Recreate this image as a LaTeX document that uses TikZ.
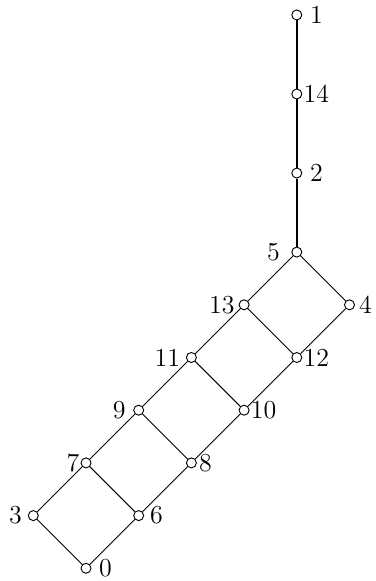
\documentclass[tikz,border=0pt]{standalone}
\tikzset{
  vtx/.style={circle,draw,fill=white,inner sep=0pt,minimum size=5.4pt,line width=0.5pt},
  edg/.style={line width=0.5pt},
  chn/.style={line width=1pt},
  every label/.style={font=\fontsize{14}{16}\selectfont,inner sep=2pt}
}
\begin{document}
\begin{tikzpicture}
    \useasboundingbox (-1.632,-0.241) rectangle (5.503,10.784);
    % lattice part
    \node[vtx,label={[label distance=2pt]right:0}] (n0) at (0,0) {};
    \node[vtx,label={[label distance=1pt]left:3}] (n3) at (-1,1) {};
    \node[vtx,label={[label distance=1pt]right:6}] (n6) at (1,1) {};
    \node[vtx,label={[label distance=-1.5pt]left:7}] (n7) at (0,2) {};
    \node[vtx,label={[label distance=-1pt]right:8}] (n8) at (2,2) {};
    \node[vtx,label={[label distance=2pt]left:9}] (n9) at (1,3) {};
    \node[vtx,label={[label distance=-1.5pt]right:10}] (n10) at (3,3) {};
    \node[vtx,label={[label distance=1pt]left:11}] (n11) at (2,4) {};
    \node[vtx,label={[label distance=-1.5pt]right:12}] (n12) at (4,4) {};
    \node[vtx,label={[label distance=0pt]left:13}] (n13) at (3,5) {};
    \node[vtx,label={[label distance=0pt]right:4}] (n4) at (5,5) {};
    \node[vtx,label={[label distance=4pt]left:5}] (n5) at (4,6) {};
    % chain on top
    \node[vtx,label={[label distance=2pt]right:2}] (n2) at (4,7.5) {};
    \node[vtx,label={[label distance=-1.5pt]right:14}] (n14) at (4,9) {};
    \node[vtx,label={[label distance=2pt]right:1}] (n1) at (4,10.5) {};
    \draw[edg] (n0) -- (n3);
    \draw[edg] (n0) -- (n6);
    \draw[edg] (n3) -- (n7);
    \draw[edg] (n6) -- (n7);
    \draw[edg] (n6) -- (n8);
    \draw[edg] (n7) -- (n9);
    \draw[edg] (n8) -- (n9);
    \draw[edg] (n8) -- (n10);
    \draw[edg] (n9) -- (n11);
    \draw[edg] (n10) -- (n11);
    \draw[edg] (n10) -- (n12);
    \draw[edg] (n11) -- (n13);
    \draw[edg] (n12) -- (n13);
    \draw[edg] (n12) -- (n4);
    \draw[edg] (n13) -- (n5);
    \draw[edg] (n4) -- (n5);
    \draw[chn] (n5) -- (n2);
    \draw[chn] (n2) -- (n14);
    \draw[chn] (n14) -- (n1);
\end{tikzpicture}
\end{document}
